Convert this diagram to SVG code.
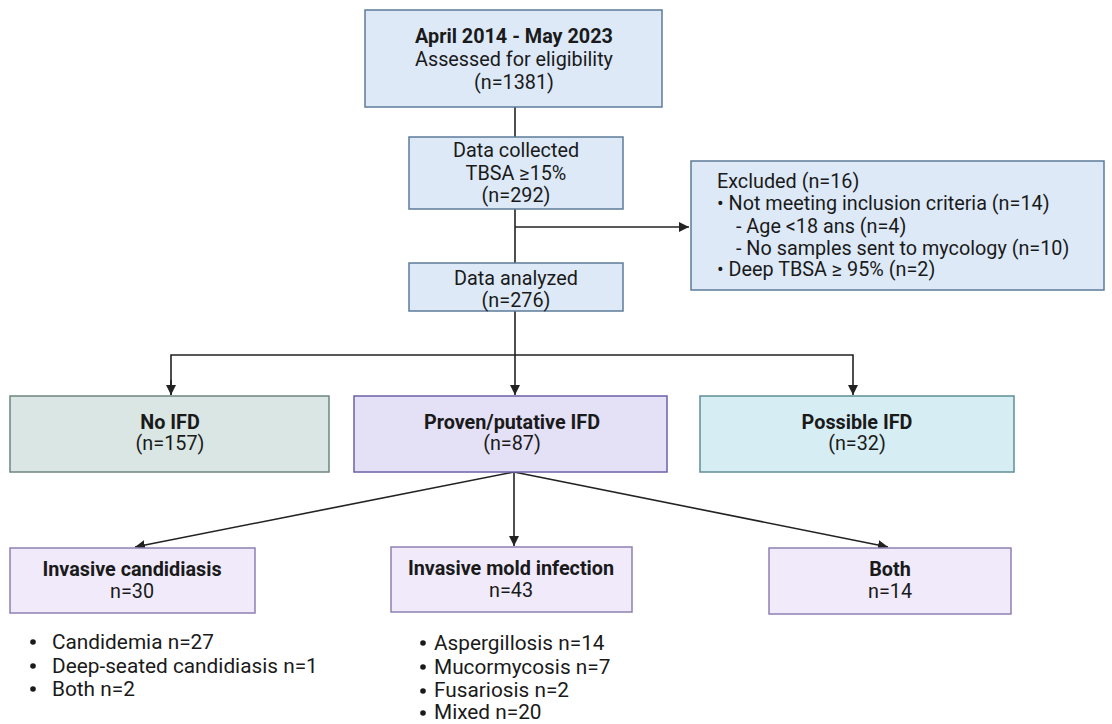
<svg xmlns="http://www.w3.org/2000/svg" width="1112" height="724" viewBox="0 0 1112 724">
<defs>
<marker id="ah" viewBox="0 0 10 10" refX="10" refY="5" markerWidth="10" markerHeight="10" markerUnits="userSpaceOnUse" orient="auto"><path d="M0,0 L10,5 L0,10 z" fill="#222"/></marker>
<style>
text{font-family:Roboto,"Liberation Sans",sans-serif;font-size:19.8px;fill:#1a1a1a}
.c{text-anchor:middle}
.b{font-weight:bold}
.blue{fill:#dde9f7;stroke:#5d7b99;stroke-width:1.5}
.green{fill:#d9e6e3;stroke:#6e8580;stroke-width:1.5}
.purple{fill:#e4e0f6;stroke:#6b60a8;stroke-width:1.5}
.cyan{fill:#d7edf4;stroke:#5f8f96;stroke-width:1.5}
.lav{fill:#f0eafa;stroke:#8f80b2;stroke-width:1.5}
.ln{fill:none;stroke:#222;stroke-width:1.6}
.li{font-size:20.8px}
.dot{fill:#1a1a1a}
</style>
</defs>
<rect width="1112" height="724" fill="#fff"/>
<g id="connectors">
<line class="ln" x1="515" y1="107" x2="515" y2="137"/>
<line class="ln" x1="515" y1="209" x2="515" y2="263"/>
<line class="ln" x1="515" y1="227" x2="689" y2="227" marker-end="url(#ah)"/>
<line class="ln" x1="515" y1="311" x2="515" y2="395" marker-end="url(#ah)"/>
<polyline class="ln" points="171,395 171,355 853,355 853,395" marker-end="url(#ah)"/>
<line class="ln" x1="171" y1="380" x2="171" y2="395" marker-end="url(#ah)"/>
<line class="ln" x1="514" y1="472" x2="135" y2="547" marker-end="url(#ah)"/>
<line class="ln" x1="514" y1="472" x2="514" y2="546" marker-end="url(#ah)"/>
<line class="ln" x1="514" y1="472" x2="888" y2="547" marker-end="url(#ah)"/>
</g>
<g id="n1">
<rect class="blue" x="365" y="10" width="297" height="97"/>
<text class="c b" x="514" y="43">April 2014 - May 2023</text>
<text class="c" x="514" y="66">Assessed for eligibility</text>
<text class="c" x="514" y="89">(n=1381)</text>
</g>
<g id="n2">
<rect class="blue" x="409" y="137" width="214" height="72"/>
<text class="c" x="516" y="157">Data collected</text>
<text class="c" x="516" y="180">TBSA ≥15%</text>
<text class="c" x="516" y="202">(n=292)</text>
</g>
<g id="excluded">
<rect class="blue" x="691" y="161" width="413" height="129"/>
<text x="717" y="188">Excluded (n=16)</text>
<text x="717" y="210">• Not meeting inclusion criteria (n=14)</text>
<text x="736" y="233">- Age &lt;18 ans (n=4)</text>
<text x="736" y="255">- No samples sent to mycology (n=10)</text>
<text x="717" y="276">• Deep TBSA ≥ 95% (n=2)</text>
</g>
<g id="n3">
<rect class="blue" x="409" y="263" width="214" height="48"/>
<text class="c" x="516" y="285">Data analyzed</text>
<text class="c" x="516" y="307">(n=276)</text>
</g>
<g id="noifd">
<rect class="green" x="10" y="396" width="319" height="76"/>
<text class="c b" x="170" y="429">No IFD</text>
<text class="c" x="170" y="450">(n=157)</text>
</g>
<g id="proven">
<rect class="purple" x="354" y="396" width="313" height="76"/>
<text class="c b" x="512" y="429">Proven/putative IFD</text>
<text class="c" x="512" y="450">(n=87)</text>
</g>
<g id="possible">
<rect class="cyan" x="700" y="396" width="314" height="76"/>
<text class="c b" x="857" y="429">Possible IFD</text>
<text class="c" x="857" y="450">(n=32)</text>
</g>
<g id="candidiasis">
<rect class="lav" x="10" y="548" width="245" height="65"/>
<text class="c b" x="132" y="576">Invasive candidiasis</text>
<text class="c" x="132" y="598">n=30</text>
</g>
<g id="mold">
<rect class="lav" x="391" y="547" width="241" height="65"/>
<text class="c b" x="511" y="575">Invasive mold infection</text>
<text class="c" x="511" y="597">n=43</text>
</g>
<g id="both">
<rect class="lav" x="769" y="548" width="242" height="66"/>
<text class="c b" x="890" y="576">Both</text>
<text class="c" x="890" y="598">n=14</text>
</g>
<g id="list1">
<circle class="dot" cx="33" cy="642" r="2.8"/><text class="li" x="52" y="649">Candidemia n=27</text>
<circle class="dot" cx="33" cy="666" r="2.8"/><text class="li" x="52" y="673">Deep-seated candidiasis n=1</text>
<circle class="dot" cx="33" cy="689" r="2.8"/><text class="li" x="52" y="696">Both n=2</text>
</g>
<g id="list2">
<circle class="dot" cx="423" cy="643" r="2.8"/><text class="li" x="434" y="650">Aspergillosis n=14</text>
<circle class="dot" cx="423" cy="667" r="2.8"/><text class="li" x="434" y="674">Mucormycosis n=7</text>
<circle class="dot" cx="423" cy="691" r="2.8"/><text class="li" x="434" y="697">Fusariosis n=2</text>
<circle class="dot" cx="423" cy="713" r="2.8"/><text class="li" x="434" y="719">Mixed n=20</text>
</g>
</svg>
